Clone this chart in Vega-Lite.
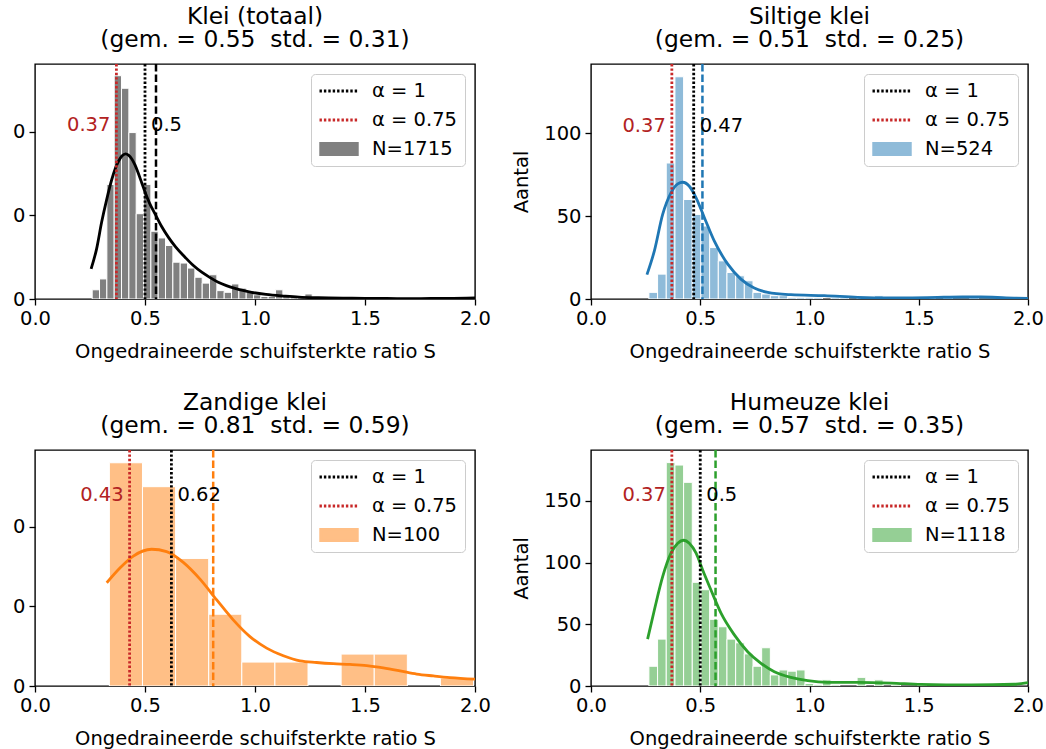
{
"$schema": "https://vega.github.io/schema/vega-lite/v6.json",
"background": "white",
"padding": {"left": 11, "top": 4, "right": 2, "bottom": 2},
"datasets": {
"h1": [{"x":0.26,"x2":0.2933,"y":11},{"x":0.2933,"x2":0.3267,"y":24},{"x":0.3267,"x2":0.36,"y":137},{"x":0.36,"x2":0.3933,"y":267},{"x":0.3933,"x2":0.4267,"y":252},{"x":0.4267,"x2":0.46,"y":199},{"x":0.46,"x2":0.4933,"y":102},{"x":0.4933,"x2":0.5267,"y":137},{"x":0.5267,"x2":0.56,"y":81},{"x":0.56,"x2":0.5933,"y":73},{"x":0.5933,"x2":0.6267,"y":64},{"x":0.6267,"x2":0.66,"y":44},{"x":0.66,"x2":0.6933,"y":43},{"x":0.6933,"x2":0.7267,"y":37},{"x":0.7267,"x2":0.76,"y":26},{"x":0.76,"x2":0.7933,"y":19},{"x":0.7933,"x2":0.8267,"y":29},{"x":0.8267,"x2":0.86,"y":10},{"x":0.86,"x2":0.8933,"y":8},{"x":0.8933,"x2":0.9267,"y":18},{"x":0.9267,"x2":0.96,"y":13},{"x":0.96,"x2":0.9933,"y":8},{"x":0.9933,"x2":1.0267,"y":5},{"x":1.0267,"x2":1.06,"y":3},{"x":1.06,"x2":1.0933,"y":3},{"x":1.0933,"x2":1.1267,"y":11},{"x":1.1267,"x2":1.16,"y":4},{"x":1.16,"x2":1.1933,"y":3},{"x":1.1933,"x2":1.2267,"y":2},{"x":1.2267,"x2":1.26,"y":6},{"x":1.26,"x2":1.2933,"y":2},{"x":1.2933,"x2":1.3267,"y":2},{"x":1.3267,"x2":1.36,"y":1},{"x":1.36,"x2":1.3933,"y":1},{"x":1.4267,"x2":1.46,"y":1},{"x":1.5267,"x2":1.56,"y":1},{"x":1.66,"x2":1.6933,"y":1},{"x":1.8267,"x2":1.86,"y":1}],
"h2": [{"x":0.265,"x2":0.3047,"y":4},{"x":0.3047,"x2":0.3444,"y":15},{"x":0.3444,"x2":0.3841,"y":82},{"x":0.3841,"x2":0.4238,"y":134},{"x":0.4238,"x2":0.4635,"y":60},{"x":0.4635,"x2":0.5032,"y":51},{"x":0.5032,"x2":0.5429,"y":44},{"x":0.5429,"x2":0.5826,"y":31},{"x":0.5826,"x2":0.6223,"y":23},{"x":0.6223,"x2":0.662,"y":16},{"x":0.662,"x2":0.7017,"y":14},{"x":0.7017,"x2":0.7414,"y":11},{"x":0.7414,"x2":0.7811,"y":4},{"x":0.7811,"x2":0.8208,"y":3},{"x":0.8208,"x2":0.8605,"y":2},{"x":0.8605,"x2":0.9002,"y":2},{"x":0.9002,"x2":0.9399,"y":1},{"x":0.9399,"x2":0.9796,"y":1},{"x":0.9796,"x2":1.0193,"y":1},{"x":1.0193,"x2":1.059,"y":1},{"x":1.0987,"x2":1.1384,"y":1},{"x":1.1384,"x2":1.1781,"y":1},{"x":1.2178,"x2":1.2575,"y":1},{"x":1.2972,"x2":1.3369,"y":2},{"x":1.5354,"x2":1.5751,"y":1},{"x":1.6148,"x2":1.6545,"y":1},{"x":1.7339,"x2":1.7736,"y":1}],
"h3": [{"x":0.338,"x2":0.4885,"y":28},{"x":0.4885,"x2":0.639,"y":25},{"x":0.639,"x2":0.7895,"y":16},{"x":0.7895,"x2":0.94,"y":9},{"x":0.94,"x2":1.0905,"y":3},{"x":1.0905,"x2":1.241,"y":3},{"x":1.3915,"x2":1.542,"y":4},{"x":1.542,"x2":1.6925,"y":4},{"x":1.843,"x2":1.9935,"y":1}],
"h4": [{"x":0.265,"x2":0.3047,"y":16},{"x":0.3047,"x2":0.3444,"y":38},{"x":0.3444,"x2":0.3841,"y":181},{"x":0.3841,"x2":0.4238,"y":179},{"x":0.4238,"x2":0.4635,"y":165},{"x":0.4635,"x2":0.5032,"y":84},{"x":0.5032,"x2":0.5429,"y":78},{"x":0.5429,"x2":0.5826,"y":54},{"x":0.5826,"x2":0.6223,"y":48},{"x":0.6223,"x2":0.662,"y":38},{"x":0.662,"x2":0.7017,"y":35},{"x":0.7017,"x2":0.7414,"y":26},{"x":0.7414,"x2":0.7811,"y":16},{"x":0.7811,"x2":0.8208,"y":31},{"x":0.8208,"x2":0.8605,"y":9},{"x":0.8605,"x2":0.9002,"y":13},{"x":0.9002,"x2":0.9399,"y":12},{"x":0.9399,"x2":0.9796,"y":13},{"x":0.9796,"x2":1.0193,"y":2},{"x":1.0193,"x2":1.059,"y":1},{"x":1.059,"x2":1.0987,"y":5},{"x":1.0987,"x2":1.1384,"y":1},{"x":1.2178,"x2":1.2575,"y":7},{"x":1.2972,"x2":1.3369,"y":5},{"x":1.3766,"x2":1.4163,"y":1},{"x":1.4957,"x2":1.5354,"y":1},{"x":1.6545,"x2":1.6942,"y":1}],
"k1": [{"x":0.255,"y":36},{"x":0.28,"y":60},{"x":0.303,"y":92},{"x":0.325,"y":118},{"x":0.348,"y":142},{"x":0.365,"y":156},{"x":0.38,"y":165},{"x":0.395,"y":171},{"x":0.412,"y":173.5},{"x":0.425,"y":172},{"x":0.44,"y":167.5},{"x":0.455,"y":160},{"x":0.47,"y":150},{"x":0.485,"y":139},{"x":0.5,"y":128},{"x":0.52,"y":115},{"x":0.545,"y":102},{"x":0.575,"y":87},{"x":0.606,"y":74},{"x":0.64,"y":62},{"x":0.682,"y":50},{"x":0.72,"y":40},{"x":0.758,"y":32},{"x":0.8,"y":25},{"x":0.833,"y":20},{"x":0.87,"y":16},{"x":0.909,"y":12.8},{"x":0.95,"y":10},{"x":0.985,"y":8},{"x":1.05,"y":5.5},{"x":1.136,"y":3.5},{"x":1.2,"y":2.3},{"x":1.288,"y":1.5},{"x":1.4,"y":1},{"x":1.5,"y":0.8},{"x":1.6,"y":0.6},{"x":1.7,"y":0.5},{"x":1.8,"y":0.6},{"x":1.9,"y":0.8},{"x":2.0,"y":1.2}],
"k2": [{"x":0.256,"y":14.7},{"x":0.29,"y":29},{"x":0.328,"y":51},{"x":0.366,"y":64},{"x":0.397,"y":69.4},{"x":0.42,"y":70.4},{"x":0.45,"y":68},{"x":0.481,"y":61},{"x":0.519,"y":49},{"x":0.564,"y":35},{"x":0.626,"y":21},{"x":0.686,"y":12},{"x":0.747,"y":6.6},{"x":0.809,"y":4},{"x":0.915,"y":2.6},{"x":1.068,"y":2},{"x":1.22,"y":1},{"x":1.358,"y":0.6},{"x":1.47,"y":0.7},{"x":1.587,"y":1},{"x":1.7,"y":1.2},{"x":1.785,"y":1.2},{"x":1.9,"y":0.7},{"x":2.0,"y":0.3}],
"k3": [{"x":0.326,"y":12.95},{"x":0.386,"y":14.8},{"x":0.447,"y":16.3},{"x":0.53,"y":17.15},{"x":0.598,"y":16.85},{"x":0.674,"y":15.5},{"x":0.75,"y":13.4},{"x":0.826,"y":10.8},{"x":0.901,"y":8.3},{"x":0.977,"y":6.2},{"x":1.053,"y":4.75},{"x":1.129,"y":3.8},{"x":1.205,"y":3.15},{"x":1.28,"y":2.95},{"x":1.356,"y":2.8},{"x":1.432,"y":2.7},{"x":1.508,"y":2.55},{"x":1.583,"y":2.27},{"x":1.659,"y":1.9},{"x":1.735,"y":1.5},{"x":1.811,"y":1.26},{"x":1.886,"y":1.05},{"x":2.0,"y":0.85}],
"k4": [{"x":0.259,"y":38},{"x":0.29,"y":61.6},{"x":0.328,"y":88.6},{"x":0.366,"y":107.6},{"x":0.397,"y":115.7},{"x":0.424,"y":118.1},{"x":0.45,"y":115.7},{"x":0.481,"y":107.6},{"x":0.511,"y":94},{"x":0.549,"y":77.8},{"x":0.595,"y":59},{"x":0.656,"y":41.4},{"x":0.717,"y":27.8},{"x":0.778,"y":18.4},{"x":0.839,"y":11.6},{"x":0.915,"y":7},{"x":0.992,"y":4.3},{"x":1.083,"y":3},{"x":1.22,"y":3},{"x":1.373,"y":2.4},{"x":1.51,"y":1.3},{"x":1.74,"y":0.8},{"x":1.937,"y":1.4},{"x":2.0,"y":2.7}],
"v1": [{"x":0.5,"lbl":"α = 1"},{"x":0.37,"lbl":"α = 0.75"}],
"v2": [{"x":0.47,"lbl":"α = 1"},{"x":0.37,"lbl":"α = 0.75"}],
"v3": [{"x":0.62,"lbl":"α = 1"},{"x":0.43,"lbl":"α = 0.75"}],
"v4": [{"x":0.5,"lbl":"α = 1"},{"x":0.37,"lbl":"α = 0.75"}],
"m1": [{"x":0.55}],
"m2": [{"x":0.51}],
"m3": [{"x":0.81}],
"m4": [{"x":0.57}]
},
"vconcat": [
{"hconcat": [
{
"width": 440, "height": 235,
"title": {"text": ["Klei (totaal)", "(gem. = 0.55\u00a0 std. = 0.31)"]},
"encoding": {"x": {"field": "x", "type": "quantitative", "scale": {"domain": [0, 2], "nice": false, "zero": false}, "axis": {"values": [0, 0.5, 1, 1.5, 2], "format": ".1f", "title": "Ongedraineerde schuifsterkte ratio S", "labelFlush": false, "labelOverlap": false}}},
"layer": [
{"data": {"name": "h1"}, "mark": {"type": "bar", "fill": "#808080", "stroke": "white", "strokeWidth": 1, "clip": true},
 "encoding": {"x2": {"field": "x2"}, "y": {"field": "y", "type": "quantitative", "scale": {"domain": [0, 281], "nice": false}, "axis": {"values": [0, 100, 200], "title": null, "labelExpr": "slice(datum.label, -1)"}}, "y2": {"datum": 0}}},
{"data": {"name": "k1"}, "mark": {"type": "line", "color": "black", "strokeWidth": 2.8, "interpolate": "monotone", "clip": true},
 "encoding": {"y": {"field": "y", "type": "quantitative", "scale": {"domain": [0, 281], "nice": false}, "axis": {"values": [0, 100, 200], "title": null, "labelExpr": "slice(datum.label, -1)"}}}},
{"data": {"name": "v1"}, "mark": {"type": "rule", "strokeDash": [2.4, 2], "strokeWidth": 2.8},
 "encoding": {"color": {"field": "lbl", "type": "nominal", "scale": {"domain": ["α = 1", "α = 0.75", "N=1715"], "range": ["black", "#c82828", "#808080"]},
   "legend": {"title": null,
     "symbolType": {"expr": "indexof(datum.value, 'N=') === 0 ? 'M-0.94,-0.29H0.94V0.29H-0.94Z' : 'stroke'"},
     "symbolStrokeColor": {"expr": "datum.value === 'α = 1' ? 'black' : datum.value === 'α = 0.75' ? '#c82828' : '#808080'"},
     "symbolFillColor": {"expr": "datum.value === 'α = 1' ? 'black' : datum.value === 'α = 0.75' ? '#c82828' : '#808080'"},
     "symbolDash": {"expr": "indexof(datum.value, 'N=') === 0 ? [1, 0] : [2.4, 2]"}}}}},
{"data": {"name": "m1"}, "mark": {"type": "rule", "strokeDash": [7.4, 3.2], "strokeWidth": 2.5, "color": "black"}, "encoding": {}},
{"data": {"name": "v1"}, "transform": [{"filter": "datum.lbl === 'α = 0.75'"}], "mark": {"type": "text", "align": "right", "baseline": "middle", "dx": -6, "fontSize": 19.5, "color": "#b22222"},
 "encoding": {"y": {"datum": 208, "type": "quantitative"}, "text": {"field": "x", "type": "quantitative", "format": ".2~f"}}},
{"data": {"name": "v1"}, "transform": [{"filter": "datum.lbl === 'α = 1'"}], "mark": {"type": "text", "align": "left", "baseline": "middle", "dx": 6, "fontSize": 19.5, "color": "black"},
 "encoding": {"y": {"datum": 208, "type": "quantitative"}, "text": {"field": "x", "type": "quantitative", "format": ".2~f"}}}
]
},
{
"width": 437, "height": 235,
"title": {"text": ["Siltige klei", "(gem. = 0.51\u00a0 std. = 0.25)"]},
"encoding": {"x": {"field": "x", "type": "quantitative", "scale": {"domain": [0, 2], "nice": false, "zero": false}, "axis": {"values": [0, 0.5, 1, 1.5, 2], "format": ".1f", "title": "Ongedraineerde schuifsterkte ratio S", "labelFlush": false, "labelOverlap": false}}},
"layer": [
{"data": {"name": "h2"}, "mark": {"type": "bar", "fill": "#8fbbd9", "stroke": "white", "strokeWidth": 1, "clip": true},
 "encoding": {"x2": {"field": "x2"}, "y": {"field": "y", "type": "quantitative", "scale": {"domain": [0, 141.7], "nice": false}, "axis": {"values": [0, 50, 100], "title": "Aantal"}}, "y2": {"datum": 0}}},
{"data": {"name": "k2"}, "mark": {"type": "line", "color": "#1f77b4", "strokeWidth": 2.8, "interpolate": "monotone", "clip": true},
 "encoding": {"y": {"field": "y", "type": "quantitative", "scale": {"domain": [0, 141.7], "nice": false}, "axis": {"values": [0, 50, 100], "title": "Aantal"}}}},
{"data": {"name": "v2"}, "mark": {"type": "rule", "strokeDash": [2.4, 2], "strokeWidth": 2.8},
 "encoding": {"color": {"field": "lbl", "type": "nominal", "scale": {"domain": ["α = 1", "α = 0.75", "N=524"], "range": ["black", "#c82828", "#8fbbd9"]},
   "legend": {"title": null,
     "symbolType": {"expr": "indexof(datum.value, 'N=') === 0 ? 'M-0.94,-0.29H0.94V0.29H-0.94Z' : 'stroke'"},
     "symbolStrokeColor": {"expr": "datum.value === 'α = 1' ? 'black' : datum.value === 'α = 0.75' ? '#c82828' : '#8fbbd9'"},
     "symbolFillColor": {"expr": "datum.value === 'α = 1' ? 'black' : datum.value === 'α = 0.75' ? '#c82828' : '#8fbbd9'"},
     "symbolDash": {"expr": "indexof(datum.value, 'N=') === 0 ? [1, 0] : [2.4, 2]"}}}}},
{"data": {"name": "m2"}, "mark": {"type": "rule", "strokeDash": [7.4, 3.2], "strokeWidth": 2.5, "color": "#1f77b4"}, "encoding": {}},
{"data": {"name": "v2"}, "transform": [{"filter": "datum.lbl === 'α = 0.75'"}], "mark": {"type": "text", "align": "right", "baseline": "middle", "dx": -6, "fontSize": 19.5, "color": "#b22222"},
 "encoding": {"y": {"datum": 104.4, "type": "quantitative"}, "text": {"field": "x", "type": "quantitative", "format": ".2~f"}}},
{"data": {"name": "v2"}, "transform": [{"filter": "datum.lbl === 'α = 1'"}], "mark": {"type": "text", "align": "left", "baseline": "middle", "dx": 6, "fontSize": 19.5, "color": "black"},
 "encoding": {"y": {"datum": 104.4, "type": "quantitative"}, "text": {"field": "x", "type": "quantitative", "format": ".2~f"}}}
]
}
], "spacing": 19, "resolve": {"scale": {"color": "independent", "x": "independent", "y": "independent"}, "legend": {"color": "independent"}}},
{"hconcat": [
{
"width": 440, "height": 236,
"title": {"text": ["Zandige klei", "(gem. = 0.81\u00a0 std. = 0.59)"]},
"encoding": {"x": {"field": "x", "type": "quantitative", "scale": {"domain": [0, 2], "nice": false, "zero": false}, "axis": {"values": [0, 0.5, 1, 1.5, 2], "format": ".1f", "title": "Ongedraineerde schuifsterkte ratio S", "labelFlush": false, "labelOverlap": false}}},
"layer": [
{"data": {"name": "h3"}, "mark": {"type": "bar", "fill": "#ffbf86", "stroke": "white", "strokeWidth": 1, "clip": true},
 "encoding": {"x2": {"field": "x2"}, "y": {"field": "y", "type": "quantitative", "scale": {"domain": [0, 29.6], "nice": false}, "axis": {"values": [0, 10, 20], "title": null, "labelExpr": "slice(datum.label, -1)"}}, "y2": {"datum": 0}}},
{"data": {"name": "k3"}, "mark": {"type": "line", "color": "#ff7f0e", "strokeWidth": 2.8, "interpolate": "monotone", "clip": true},
 "encoding": {"y": {"field": "y", "type": "quantitative", "scale": {"domain": [0, 29.6], "nice": false}, "axis": {"values": [0, 10, 20], "title": null, "labelExpr": "slice(datum.label, -1)"}}}},
{"data": {"name": "v3"}, "mark": {"type": "rule", "strokeDash": [2.4, 2], "strokeWidth": 2.8},
 "encoding": {"color": {"field": "lbl", "type": "nominal", "scale": {"domain": ["α = 1", "α = 0.75", "N=100"], "range": ["black", "#c82828", "#ffbf86"]},
   "legend": {"title": null,
     "symbolType": {"expr": "indexof(datum.value, 'N=') === 0 ? 'M-0.94,-0.29H0.94V0.29H-0.94Z' : 'stroke'"},
     "symbolStrokeColor": {"expr": "datum.value === 'α = 1' ? 'black' : datum.value === 'α = 0.75' ? '#c82828' : '#ffbf86'"},
     "symbolFillColor": {"expr": "datum.value === 'α = 1' ? 'black' : datum.value === 'α = 0.75' ? '#c82828' : '#ffbf86'"},
     "symbolDash": {"expr": "indexof(datum.value, 'N=') === 0 ? [1, 0] : [2.4, 2]"}}}}},
{"data": {"name": "m3"}, "mark": {"type": "rule", "strokeDash": [7.4, 3.2], "strokeWidth": 2.5, "color": "#ff7f0e"}, "encoding": {}},
{"data": {"name": "v3"}, "transform": [{"filter": "datum.lbl === 'α = 0.75'"}], "mark": {"type": "text", "align": "right", "baseline": "middle", "dx": -6, "fontSize": 19.5, "color": "#b22222"},
 "encoding": {"y": {"datum": 24, "type": "quantitative"}, "text": {"field": "x", "type": "quantitative", "format": ".2~f"}}},
{"data": {"name": "v3"}, "transform": [{"filter": "datum.lbl === 'α = 1'"}], "mark": {"type": "text", "align": "left", "baseline": "middle", "dx": 6, "fontSize": 19.5, "color": "black"},
 "encoding": {"y": {"datum": 24, "type": "quantitative"}, "text": {"field": "x", "type": "quantitative", "format": ".2~f"}}}
]
},
{
"width": 437, "height": 236,
"title": {"text": ["Humeuze klei", "(gem. = 0.57\u00a0 std. = 0.35)"]},
"encoding": {"x": {"field": "x", "type": "quantitative", "scale": {"domain": [0, 2], "nice": false, "zero": false}, "axis": {"values": [0, 0.5, 1, 1.5, 2], "format": ".1f", "title": "Ongedraineerde schuifsterkte ratio S", "labelFlush": false, "labelOverlap": false}}},
"layer": [
{"data": {"name": "h4"}, "mark": {"type": "bar", "fill": "#95cf95", "stroke": "white", "strokeWidth": 1, "clip": true},
 "encoding": {"x2": {"field": "x2"}, "y": {"field": "y", "type": "quantitative", "scale": {"domain": [0, 191.2], "nice": false}, "axis": {"values": [0, 50, 100, 150], "title": "Aantal"}}, "y2": {"datum": 0}}},
{"data": {"name": "k4"}, "mark": {"type": "line", "color": "#2ca02c", "strokeWidth": 2.8, "interpolate": "monotone", "clip": true},
 "encoding": {"y": {"field": "y", "type": "quantitative", "scale": {"domain": [0, 191.2], "nice": false}, "axis": {"values": [0, 50, 100, 150], "title": "Aantal"}}}},
{"data": {"name": "v4"}, "mark": {"type": "rule", "strokeDash": [2.4, 2], "strokeWidth": 2.8},
 "encoding": {"color": {"field": "lbl", "type": "nominal", "scale": {"domain": ["α = 1", "α = 0.75", "N=1118"], "range": ["black", "#c82828", "#95cf95"]},
   "legend": {"title": null,
     "symbolType": {"expr": "indexof(datum.value, 'N=') === 0 ? 'M-0.94,-0.29H0.94V0.29H-0.94Z' : 'stroke'"},
     "symbolStrokeColor": {"expr": "datum.value === 'α = 1' ? 'black' : datum.value === 'α = 0.75' ? '#c82828' : '#95cf95'"},
     "symbolFillColor": {"expr": "datum.value === 'α = 1' ? 'black' : datum.value === 'α = 0.75' ? '#c82828' : '#95cf95'"},
     "symbolDash": {"expr": "indexof(datum.value, 'N=') === 0 ? [1, 0] : [2.4, 2]"}}}}},
{"data": {"name": "m4"}, "mark": {"type": "rule", "strokeDash": [7.4, 3.2], "strokeWidth": 2.5, "color": "#2ca02c"}, "encoding": {}},
{"data": {"name": "v4"}, "transform": [{"filter": "datum.lbl === 'α = 0.75'"}], "mark": {"type": "text", "align": "right", "baseline": "middle", "dx": -6, "fontSize": 19.5, "color": "#b22222"},
 "encoding": {"y": {"datum": 155, "type": "quantitative"}, "text": {"field": "x", "type": "quantitative", "format": ".2~f"}}},
{"data": {"name": "v4"}, "transform": [{"filter": "datum.lbl === 'α = 1'"}], "mark": {"type": "text", "align": "left", "baseline": "middle", "dx": 6, "fontSize": 19.5, "color": "black"},
 "encoding": {"y": {"datum": 155, "type": "quantitative"}, "text": {"field": "x", "type": "quantitative", "format": ".2~f"}}}
]
}
], "spacing": 19, "resolve": {"scale": {"color": "independent", "x": "independent", "y": "independent"}, "legend": {"color": "independent"}}}
],
"spacing": 28,
"resolve": {"scale": {"color": "independent", "x": "independent", "y": "independent"}, "legend": {"color": "independent"}},
"config": {
"font": "DejaVu Sans",
"view": {"stroke": "black", "strokeWidth": 1.4},
"axis": {"domain": false, "grid": false, "tickColor": "black", "tickWidth": 1.3, "tickSize": 6, "labelFont": "DejaVu Sans", "labelFontSize": 19.5, "labelColor": "black", "labelPadding": 4, "titleFont": "DejaVu Sans", "titleFontSize": 19.5, "titleFontWeight": "normal", "titleColor": "black"},
"axisX": {"titlePadding": 15},
"axisY": {"titlePadding": 12},
"title": {"font": "DejaVu Sans", "fontSize": 23.4, "fontWeight": "normal", "color": "black", "frame": "group", "anchor": "middle", "offset": 10, "lineHeight": 23},
"legend": {"orient": "top-right", "offset": 10, "padding": 7, "rowPadding": 9, "clipHeight": 20, "labelFont": "DejaVu Sans", "labelFontSize": 19.5, "labelColor": "black", "labelOffset": 12, "strokeColor": "#cccccc", "fillColor": "white", "cornerRadius": 4, "symbolSize": 1521, "symbolStrokeWidth": 2.8}
}
}
